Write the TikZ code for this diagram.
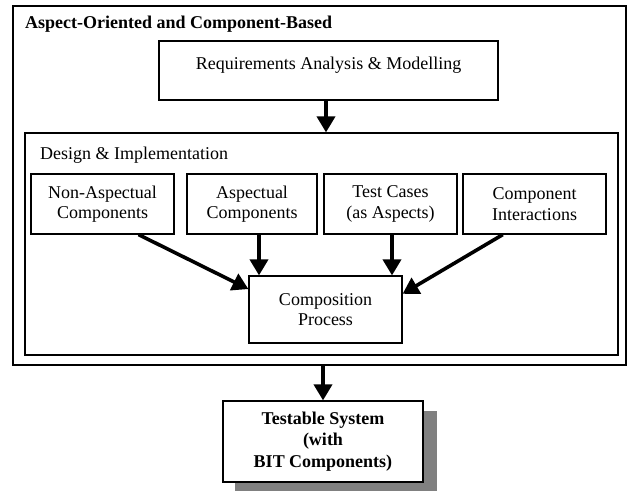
\documentclass[tikz,border=0pt]{standalone}
\usepackage{fontspec}
\setmainfont{Liberation Serif}
\usetikzlibrary{arrows.meta,calc}
\begin{document}
\begin{tikzpicture}[x=1pt,y=-1pt,
  box/.style={draw=black,line width=1.2pt,rectangle,inner sep=0pt,align=center,
    font=\fontsize{18}{20.5}\selectfont},
  bigarrow/.style={line width=3.6pt,-{Triangle[length=16pt,width=18pt]}},
  txt/.style={inner sep=0pt,font=\fontsize{18}{20.5}\selectfont}]
\useasboundingbox (0,0) rectangle (628,491);
% outer and inner frames
\node[box,line width=1.6pt,minimum width=613pt,minimum height=359pt] (outer) at (319.5,185.5) {};
\node[txt,anchor=base west,font=\fontsize{18}{20.5}\selectfont\bfseries] (title) at (25,28) {Aspect-Oriented and Component-Based};
\node[box,minimum width=339pt,minimum height=59pt] (req) at (328.5,70.5) {};
\node[txt,anchor=base] (reqtxt) at (328.5,69) {Requirements Analysis \& Modelling};
\node[box,minimum width=593pt,minimum height=222pt] (inner) at (321.5,244) {};
\node[txt,anchor=base west] (design) at (40,159) {Design \& Implementation};
% component boxes
\node[box,minimum width=143pt,minimum height=60pt] (NA) at (102.5,204) {Non-Aspectual\\Components};
\node[box,minimum width=130pt,minimum height=60pt] (AC) at (252,204) {Aspectual\\Components};
\node[box,minimum width=133pt,minimum height=60pt] (TC) at (390.5,204) {Test Cases\\(as Aspects)};
\node[box,minimum width=143pt,minimum height=60pt] (CI) at (534.5,204) {Component\\Interactions};
\node[box,minimum width=153pt,minimum height=67pt] (comp) at (325.5,309.5) {Composition\\Process};
% testable system with shadow
\fill[gray] (235,411) rectangle (437,491);
\node[box,fill=white,minimum width=200pt,minimum height=81pt,font=\fontsize{18}{21.5}\selectfont\bfseries] (test) at (323,441.5) {Testable System\\(with\\BIT Components)};
% arrows
\draw[bigarrow] (req.south -| 326,0) -- (inner.north -| 326,0);
\draw[bigarrow] ($(NA.south west)!0.75!(NA.south east)$) -- ($(comp.north west)!0.2!(comp.south west)$);
\draw[bigarrow] ([xshift=7pt]AC.south) -- ([xshift=7pt]AC.south |- comp.north);
\draw[bigarrow] ([xshift=1.5pt]TC.south) -- ([xshift=1.5pt]TC.south |- comp.north);
\draw[bigarrow] ($(CI.south west)!0.28!(CI.south east)$) -- ($(comp.north east)!0.27!(comp.south east)$);
\draw[bigarrow] (outer.south -| test.north) -- (test.north);
\end{tikzpicture}
\end{document}
